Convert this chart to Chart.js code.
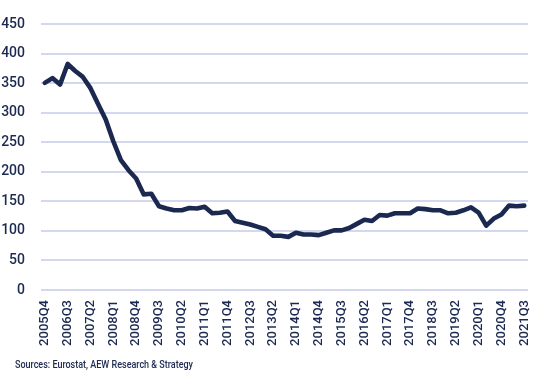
<!DOCTYPE html>
<html>
<head>
<meta charset="utf-8">
<script src="https://cdn.jsdelivr.net/npm/chart.js@4/dist/chart.umd.min.js"></script>
<style>
  html, body { margin: 0; padding: 0; background: #ffffff; }
  #wrap { position: relative; width: 550px; height: 380px; }
  #c { position: absolute; left: 0; top: 0; }
  #src { position: absolute; left: 15px; top: 359px; line-height: 11px; font-family: Roboto, sans-serif; font-weight: 500; font-size: 11px; color: #1c2951; white-space: nowrap; transform-origin: 0 0; }
</style>
</head>
<body>
<div id="wrap">
  <canvas id="c" width="550" height="380"></canvas>
  <div id="src">Sources: Eurostat, AEW Research &amp; Strategy</div>
</div>
<script>
const quarters = [
  "2005Q4","2006Q1","2006Q2","2006Q3","2006Q4","2007Q1","2007Q2","2007Q3","2007Q4","2008Q1",
  "2008Q2","2008Q3","2008Q4","2009Q1","2009Q2","2009Q3","2009Q4","2010Q1","2010Q2","2010Q3",
  "2010Q4","2011Q1","2011Q2","2011Q3","2011Q4","2012Q1","2012Q2","2012Q3","2012Q4","2013Q1",
  "2013Q2","2013Q3","2013Q4","2014Q1","2014Q2","2014Q3","2014Q4","2015Q1","2015Q2","2015Q3",
  "2015Q4","2016Q1","2016Q2","2016Q3","2016Q4","2017Q1","2017Q2","2017Q3","2017Q4","2018Q1",
  "2018Q2","2018Q3","2018Q4","2019Q1","2019Q2","2019Q3","2019Q4","2020Q1","2020Q2","2020Q3",
  "2020Q4","2021Q1","2021Q2","2021Q3"
];
const values = [
  351, 359, 348, 383, 371, 361, 342, 315, 289, 252,
  220, 203, 189, 162, 163, 142, 138, 135, 135, 139,
  138, 141, 130, 131, 133, 117, 114, 111, 107, 103,
  92, 92, 90, 97, 94, 94, 93, 97, 101, 101,
  105, 112, 119, 117, 127, 126, 130, 130, 130, 138,
  137, 135, 135, 130, 131, 135, 140, 131, 109, 121,
  128, 143, 142, 143
];
const yTicks = [0, 50, 100, 150, 200, 250, 300, 350, 400, 450];
const labelEvery = 3;

const navy = '#1b2951';
const gridCol = '#d3d8ee';
const fontFam = "Roboto, sans-serif";

// condense the source line to the reference width
(function () {
  const el = document.getElementById('src');
  const w = el.getBoundingClientRect().width;
  if (w > 0) el.style.transform = 'scaleX(' + (178 / w) + ')';
})();

new Chart(document.getElementById('c'), {
  type: 'line',
  data: {
    labels: quarters,
    datasets: [{
      data: values,
      borderColor: navy,
      borderWidth: 4.6,
      pointRadius: 0,
      tension: 0,
      fill: false,
      borderJoinStyle: 'round',
      borderCapStyle: 'round'
    }]
  },
  options: {
    responsive: false,
    animation: false,
    devicePixelRatio: 1,
    layout: { padding: { left: 0, right: 17, top: 14, bottom: 0 } },
    plugins: { legend: { display: false }, tooltip: { enabled: false } },
    scales: {
      x: {
        type: 'category',
        offset: true,
        grid: { display: false, drawTicks: false },
        border: { display: false },
        afterFit: (s) => { s.height = 90; },
        ticks: {
          autoSkip: false,
          minRotation: 90,
          maxRotation: 90,
          padding: 10,
          color: navy,
          font: { family: fontFam, size: 13, weight: '500' },
          callback: function(v, i) { return i % labelEvery === 0 ? quarters[i] : null; }
        }
      },
      y: {
        min: 0,
        max: 450,
        afterFit: (s) => { s.width = 41; },
        afterBuildTicks: (s) => { s.ticks = yTicks.map(v => ({ value: v })); },
        grid: { color: gridCol, lineWidth: 2, drawTicks: false },
        border: { display: false },
        ticks: {
          padding: 16,
          color: navy,
          font: { family: fontFam, size: 14, weight: '500' }
        }
      }
    }
  }
});
</script>
</body>
</html>
